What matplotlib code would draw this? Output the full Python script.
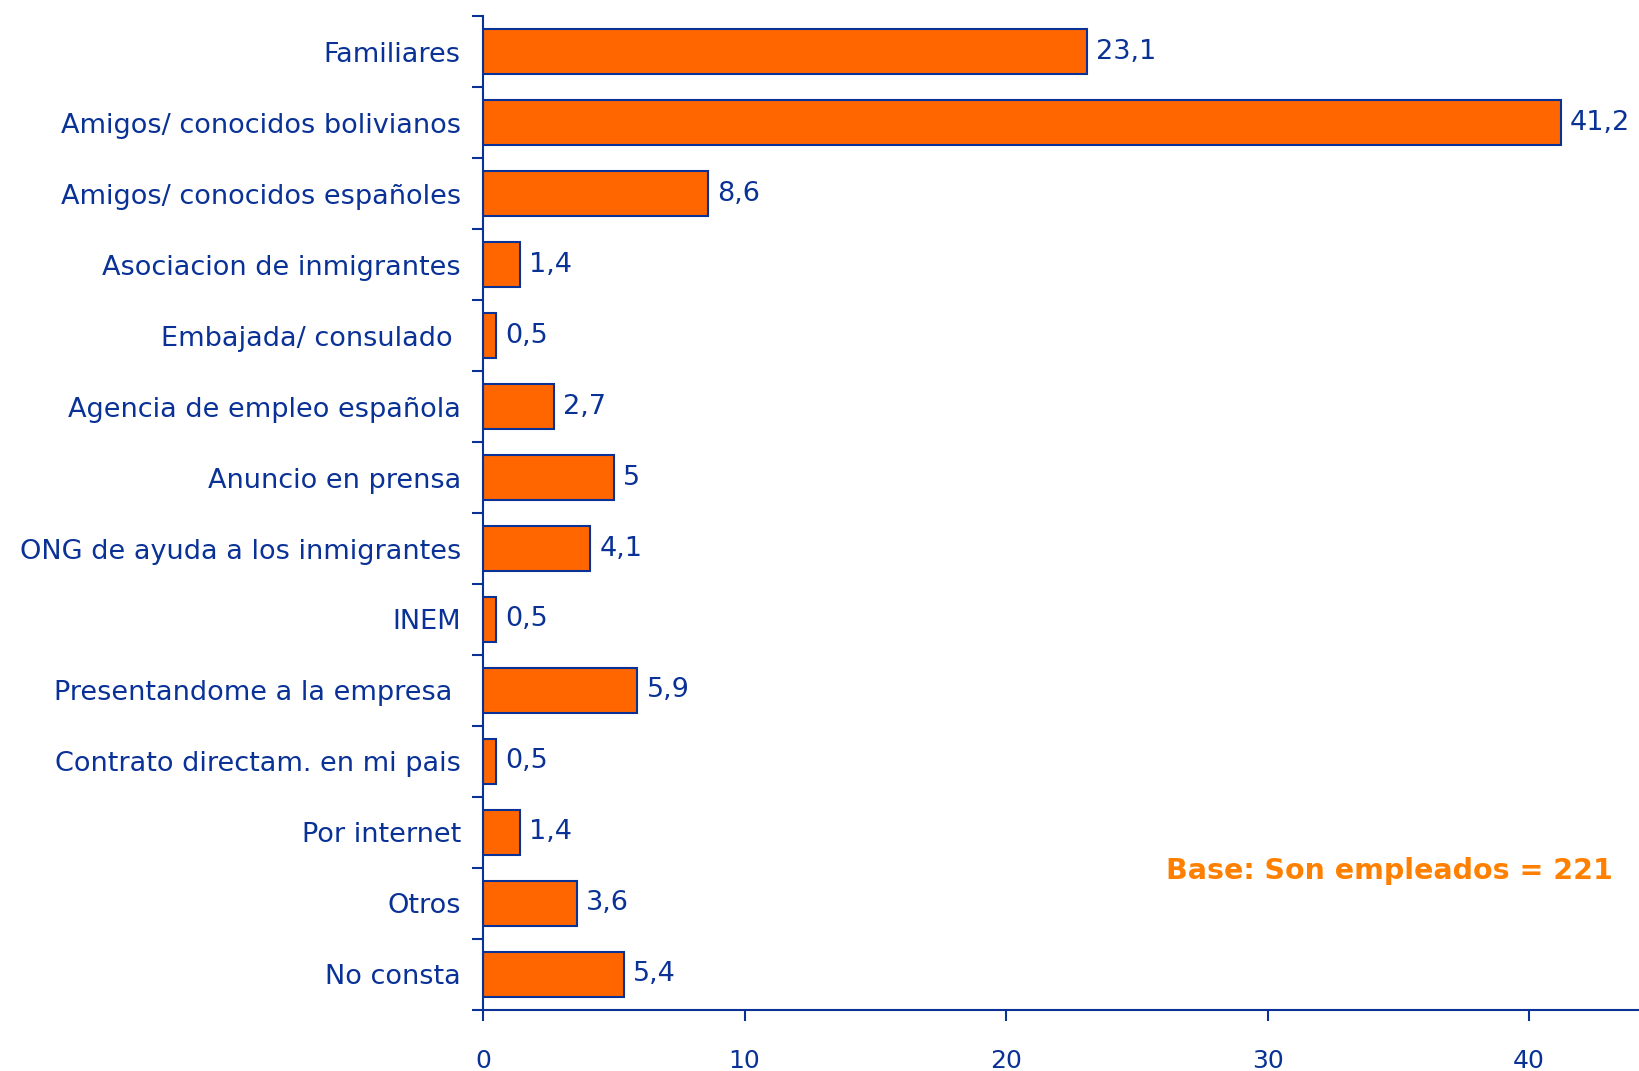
import matplotlib.pyplot as plt
from matplotlib.ticker import FixedLocator

plt.rcParams['font.family'] = ['DejaVu Sans']

# datos
categorias = ['Familiares', 'Amigos/ conocidos bolivianos', 'Amigos/ conocidos españoles',
              'Asociacion de inmigrantes', 'Embajada/ consulado ', 'Agencia de empleo española',
              'Anuncio en prensa', 'ONG de ayuda a los inmigrantes', 'INEM',
              'Presentandome a la empresa ', 'Contrato directam. en mi pais', 'Por internet',
              'Otros', 'No consta']
valores = [23.1, 41.2, 8.6, 1.4, 0.5, 2.7, 5, 4.1, 0.5, 5.9, 0.5, 1.4, 3.6, 5.4]
xticks = [0, 10, 20, 30, 40]

azul = '#0a3296'
naranja = '#ff6600'

fig = plt.figure(figsize=(16.39, 10.71), dpi=100)
ax = fig.add_axes([0.2947, 0.057, 0.7053, 0.928])

n = len(categorias)
pos = list(range(n))
ax.barh(pos, valores, height=0.63, color=naranja, edgecolor=azul, linewidth=1.5)

for p, v in zip(pos, valores):
    txt = f'{v:g}'.replace('.', ',')
    ax.text(v + 0.35, p, txt, va='center', ha='left', fontsize=19.5, color=azul)

ax.set_ylim(n - 0.5, -0.5)
ax.set_xlim(0, 44.2)

ax.set_yticks(pos)
ax.set_yticklabels(categorias, fontsize=19.5, color=azul)
ax.tick_params(axis='y', which='major', length=0, pad=16)
ax.yaxis.set_minor_locator(FixedLocator([i - 0.5 for i in range(n + 1)]))
ax.tick_params(axis='y', which='minor', length=8, width=1.5, color=azul)

ax.set_xticks(xticks)
ax.set_xticklabels([str(t) for t in xticks], fontsize=18, color=azul)
ax.tick_params(axis='x', length=8, width=1.5, color=azul, pad=20)

for s in ['top', 'right']:
    ax.spines[s].set_visible(False)
for s in ['left', 'bottom']:
    ax.spines[s].set_color(azul)
    ax.spines[s].set_linewidth(1.5)

fig.text(0.984, 0.187, 'Base: Son empleados = 221', ha='right', va='center',
         fontsize=20.5, fontweight='bold', color='#ff8000')

fig.savefig('out.png', dpi=100)
